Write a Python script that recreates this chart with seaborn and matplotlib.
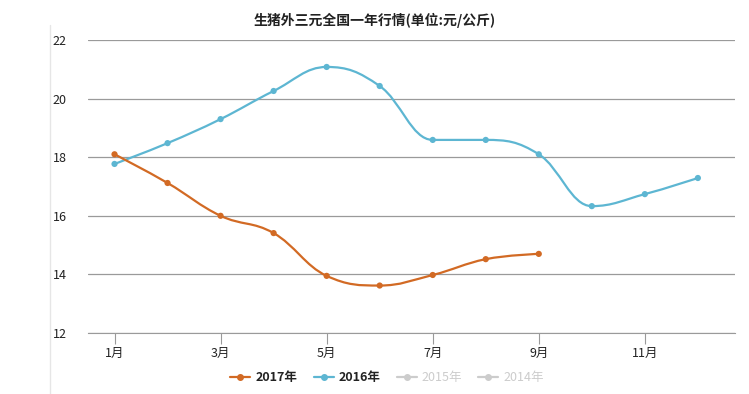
import numpy as np
import matplotlib
matplotlib.use("Agg")
import matplotlib.pyplot as plt
import seaborn as sns
from matplotlib.path import Path
from matplotlib.patches import PathPatch
from matplotlib.lines import Line2D

# 数据
months = list(range(1, 13))
y2017 = [18.1, 17.12, 16.0, 15.41, 13.95, 13.62, 13.98, 14.52, 14.7]
y2016 = [17.77, 18.48, 19.3, 20.26, 21.08, 20.43, 18.59, 18.59, 18.1, 16.33, 16.74, 17.29]
tick_months = [1, 3, 5, 7, 9, 11]
tick_labels = ["1月", "3月", "5月", "7月", "9月", "11月"]
series_names = ["2017年", "2016年", "2015年", "2014年"]

c2017 = "#d26a24"
c2016 = "#5db6d2"

sns.set_style("white")
plt.rcParams['font.family'] = ['Noto Sans CJK SC', 'DejaVu Sans']


def spline_path(xs, ys, smoothing=1.5):
    # 平滑曲线的贝塞尔控制点
    denom = smoothing + 1
    n = len(xs)
    ctrl = []
    for i in range(n):
        if i == 0 or i == n - 1:
            ctrl.append(((xs[i], ys[i]), (xs[i], ys[i])))
            continue
        y0, y1, y2 = ys[i - 1], ys[i], ys[i + 1]
        lx = (smoothing * xs[i] + xs[i - 1]) / denom
        ly = (smoothing * y1 + y0) / denom
        rx = (smoothing * xs[i] + xs[i + 1]) / denom
        ry = (smoothing * y1 + y2) / denom
        if rx != lx:
            corr = ((ry - ly) * (rx - xs[i])) / (rx - lx) + y1 - ry
            ly += corr
            ry += corr
        if ly > y0 and ly > y1:
            ly = max(y0, y1)
            ry = 2 * y1 - ly
        elif ly < y0 and ly < y1:
            ly = min(y0, y1)
            ry = 2 * y1 - ly
        if ry > y2 and ry > y1:
            ry = max(y2, y1)
            ly = 2 * y1 - ry
        elif ry < y2 and ry < y1:
            ry = min(y2, y1)
            ly = 2 * y1 - ry
        ctrl.append(((lx, ly), (rx, ry)))
    verts = [(xs[0], ys[0])]
    codes = [Path.MOVETO]
    for i in range(1, n):
        verts += [ctrl[i - 1][1], ctrl[i][0], (xs[i], ys[i])]
        codes += [Path.CURVE4] * 3
    return Path(verts, codes)


fig = plt.figure(figsize=(7.49, 3.94), dpi=100)
ax = fig.add_axes([88 / 749, 1 - 333 / 394, (735 - 88) / 749, (333 - 40) / 394])

for xs, ys, col in [(months[:len(y2016)], y2016, c2016), (months[:len(y2017)], y2017, c2017)]:
    ax.add_patch(PathPatch(spline_path(xs, ys), facecolor="none", edgecolor=col, lw=1.6, zorder=3))
    sns.scatterplot(x=xs, y=ys, color=col, s=20, edgecolor="none", ax=ax, zorder=4)

ax.set_xlim(0.5, 12.7)
ax.set_ylim(12, 22)
ax.set_yticks([12, 14, 16, 18, 20, 22])
ax.set_xticks(tick_months)
ax.set_xticklabels(tick_labels)
ax.grid(axis="y", color="#9a9a9a", lw=0.9)
for s in ["top", "right", "left"]:
    ax.spines[s].set_visible(False)
ax.spines["bottom"].set_color("#9a9a9a")
ax.tick_params(axis="x", bottom=True, length=8, color="#9a9a9a", labelsize=9, pad=2)
ax.tick_params(axis="y", left=False, labelsize=9, pad=12)
for lab in ax.get_xticklabels() + ax.get_yticklabels():
    lab.set_color("#222222")

fig.text(0.5, 1 - 20 / 394, "生猪外三元全国一年行情(单位:元/公斤)", ha="center", va="center",
         fontsize=10, fontweight="bold", color="#222222")
fig.add_artist(Line2D([50 / 749, 50 / 749], [0, 1 - 25 / 394], color="#e6e6e6", lw=1))

handles = [Line2D([], [], color=c2017, marker="o", ms=4, lw=1.6),
           Line2D([], [], color=c2016, marker="o", ms=4, lw=1.6),
           Line2D([], [], color="#cccccc", marker="o", ms=4, lw=1.6),
           Line2D([], [], color="#cccccc", marker="o", ms=4, lw=1.6)]
leg = fig.legend(handles, series_names, loc="center", bbox_to_anchor=(0.517, 1 - 378 / 394), ncol=4,
                 frameon=False, fontsize=9, handlelength=1.6, handletextpad=0.4, columnspacing=1.3)
for i, t in enumerate(leg.get_texts()):
    t.set_fontweight("bold" if i < 2 else "normal")
    t.set_color("#222222" if i < 2 else "#cccccc")

fig.savefig("out.png", dpi=100)
